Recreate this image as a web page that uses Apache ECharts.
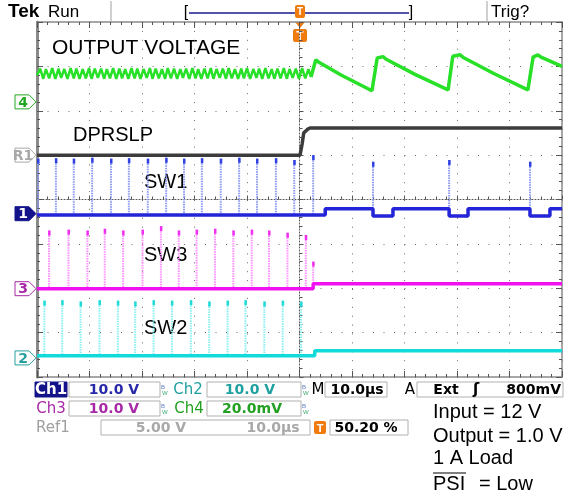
<!DOCTYPE html>
<html>
<head>
<meta charset="utf-8">
<title>DPRSLP transition</title>
<script src="https://cdn.jsdelivr.net/npm/echarts@6/dist/echarts.min.js"></script>
<style>
  body { margin: 0; background: #fff; }
  #main { width: 579px; height: 496px; }
</style>
</head>
<body>
<div id="main"></div>
<script type="text/javascript">
// x: time in µs (10 µs/div, trigger at 0), y: screen divisions (8 div tall)

// Ch4 output voltage ripple before trigger, then the slow sawtooth after
var ch4Ripple = [
  [-50.0,2.80],[-49.4,2.95],[-48.8,2.72],[-48.3,2.94],[-47.7,2.73],[-47.1,2.96],[-46.5,2.72],[-45.9,2.95],
  [-45.4,2.74],[-44.8,2.94],[-44.2,2.72],[-43.6,2.96],[-43.0,2.73],[-42.5,2.95],[-41.9,2.72],[-41.3,2.94],
  [-40.7,2.73],[-40.1,2.96],[-39.6,2.72],[-39.0,2.95],[-38.4,2.74],[-37.8,2.95],[-37.2,2.72],[-36.7,2.94],
  [-36.1,2.73],[-35.5,2.96],[-34.9,2.72],[-34.3,2.95],[-33.8,2.73],[-33.2,2.94],[-32.6,2.72],[-32.0,2.96],
  [-31.4,2.73],[-30.9,2.95],[-30.3,2.72],[-29.7,2.94],[-29.1,2.74],[-28.5,2.96],[-28.0,2.72],[-27.4,2.95],
  [-26.8,2.73],[-26.2,2.94],[-25.6,2.72],[-25.1,2.96],[-24.5,2.73],[-23.9,2.95],[-23.3,2.72],[-22.7,2.94],
  [-22.2,2.74],[-21.6,2.95],[-21.0,2.72],[-20.4,2.96],[-19.8,2.73],[-19.3,2.94],[-18.7,2.72],[-18.1,2.95],
  [-17.5,2.73],[-16.9,2.96],[-16.4,2.72],[-15.8,2.94],[-15.2,2.74],[-14.6,2.95],[-14.0,2.72],[-13.5,2.96],
  [-12.9,2.73],[-12.3,2.94],[-11.7,2.72],[-11.1,2.95],[-10.6,2.73],[-10.0,2.96],[-9.4,2.72],[-8.8,2.94],
  [-8.2,2.74],[-7.7,2.95],[-7.1,2.72],[-6.5,2.96],[-5.9,2.73],[-5.3,2.94],[-4.8,2.72],[-4.2,2.95],
  [-3.6,2.73],[-3.0,2.96],[-2.4,2.72],[-1.9,2.94],[-1.3,2.74],[-0.7,2.95],[-0.1,2.72],[0.5,2.96],
  [1.1,2.73],[1.7,2.94],[2.2,2.76]
];
var ch4After = [
  [2.2,2.76],[3.1,3.15],[3.6,3.10],[8.0,2.80],[13.8,2.45],[14.8,3.19],[15.9,3.22],[16.5,3.16],[22.0,2.82],
  [28.3,2.47],[29.2,3.23],[30.6,3.26],[31.2,3.20],[37.0,2.84],[43.5,2.47],[44.5,3.21],[45.4,3.26],
  [46.0,3.21],[50.0,3.00]
];

// Ref1 DPRSLP
var r1Trace = [[-50,1.00],[0.1,1.00],[0.5,1.25],[0.8,1.50],[1.5,1.58],[2.0,1.61],[50,1.61]];

// switch-node baselines
var ch1Base = [[-50,-0.35],[4.9,-0.35],[4.9,-0.21],[14.0,-0.21],[14.0,-0.37],[17.8,-0.37],[17.8,-0.21],
  [28.5,-0.21],[28.5,-0.37],[32.1,-0.37],[32.1,-0.21],[43.9,-0.21],[43.9,-0.37],[47.7,-0.37],[47.7,-0.21],[50,-0.21]];
var ch3Base = [[-50,-2.01],[2.6,-2.01],[2.6,-1.90],[50,-1.90]];
var ch2Base = [[-50,-3.52],[2.9,-3.52],[2.9,-3.41],[50,-3.41]];

// switching pulses: [time, peak level]
var sw1Pulses = [[-49.8,0.92],[-46.4,0.93],[-43.0,0.92],[-39.5,0.94],[-35.9,0.92],[-32.5,0.93],[-28.9,0.92],
  [-25.4,0.94],[-22.0,0.92],[-18.6,0.93],[-15.0,0.92],[-11.5,0.94],[-8.1,0.92],[-4.5,0.93],[-1.0,0.89],
  [2.6,1.00],[14.0,0.85],[28.5,0.89],[43.9,0.85]];
var sw3Pulses = [[-47.7,-0.70],[-44.0,-0.68],[-40.4,-0.70],[-37.1,-0.66],[-33.6,-0.70],[-29.9,-0.68],
  [-26.4,-0.60],[-23.0,-0.70],[-19.6,-0.68],[-16.1,-0.66],[-12.6,-0.70],[-9.1,-0.68],[-5.8,-0.70],
  [-2.3,-0.75],[1.2,-0.80],[2.6,-1.40]];
var sw2Pulses = [[-48.6,-2.28],[-45.2,-2.27],[-41.7,-2.30],[-38.1,-2.27],[-34.6,-2.28],[-31.3,-2.30],
  [-27.8,-2.27],[-24.3,-2.28],[-20.7,-2.27],[-17.2,-2.30],[-13.7,-2.28],[-10.3,-2.27],[-6.7,-2.30],
  [-3.2,-2.28],[0.3,-2.30]];

// channel ground markers on the left edge
var markerNames = ['4', 'R1', '1', '3', '2'];
var markerLevels = [2.2, 1.0, -0.32, -2.01, -3.57];
var markerColors = ['#22a822', '#a8a8a8', '#14148a', '#a828a8', '#28a0a0'];

var myChart = echarts.init(document.getElementById('main'));

var SANS = '"Liberation Sans", Arial, sans-serif';
var MONO = '"DejaVu Sans", sans-serif';

function pulseSeries(data, base, light, dark) {
  return {
    type: 'custom', xAxisIndex: 0, yAxisIndex: 0, data: data, clip: true, z: 3,
    renderItem: function (params, api) {
      var top = api.coord([api.value(0), api.value(1)]);
      var bot = api.coord([api.value(0), base]);
      return {
        type: 'group', children: [
          { type: 'line', shape: { x1: top[0], y1: top[1], x2: bot[0], y2: bot[1] },
            style: { stroke: light, lineWidth: 2, lineDash: [1.5, 1] } },
          { type: 'rect', shape: { x: top[0] - 1, y: top[1], width: 2.5, height: 5 }, style: { fill: dark } }
        ]
      };
    }
  };
}

function txt(x, y, s, font, color, align) {
  return { type: 'text', x: x, y: y, silent: true,
    style: { text: s, font: font, fill: color, align: align || 'left', verticalAlign: 'middle',
             textAlign: align || 'left', textVerticalAlign: 'middle' } };
}
function box(x, y, w, h, stroke, fill) {
  return { type: 'rect', silent: true, shape: { x: x, y: y, width: w, height: h },
    style: { stroke: stroke, fill: fill || 'none', lineWidth: 1 } };
}
function bw(x, y) {
  return [txt(x, y - 3, 'B', '6px ' + SANS, '#5a7fc8'), txt(x + 1, y + 3, 'W', '6px ' + SANS, '#3aa870')];
}
function tBox(x, y, w, h, fs) {
  return [
    { type: 'rect', silent: true, shape: { x: x, y: y, width: w, height: h, r: 2 }, style: { fill: '#f07c10' } },
    txt(x + w / 2, y + h / 2 + 1, 'T', 'bold ' + fs + 'px ' + SANS, '#fff', 'center')
  ];
}

var graphics = [
  // status bar
  txt(8, 12, 'Tek', 'bold 19px ' + SANS, '#000'),
  txt(48, 12, 'Run', '17px ' + SANS, '#000'),
  { type: 'line', silent: true, shape: { x1: 111, y1: 1, x2: 111, y2: 21 }, style: { stroke: '#a0a0a0', lineWidth: 1 } },
  { type: 'line', silent: true, shape: { x1: 487, y1: 1, x2: 487, y2: 21 }, style: { stroke: '#a0a0a0', lineWidth: 1 } },
  { type: 'line', silent: true, shape: { x1: 189, y1: 13, x2: 409, y2: 13 }, style: { stroke: '#1a1a90', lineWidth: 1.5 } },
  txt(186, 13, '[', '16px ' + SANS, '#000', 'center'),
  txt(411, 13, ']', '16px ' + SANS, '#000', 'center'),
  txt(491, 12, 'Trig?', '17px ' + SANS, '#000'),
  { type: 'polygon', silent: true, shape: { points: [[295, 22], [305, 22], [300, 28]] }, style: { fill: '#f07c10' } },

  // annotations inside the screen
  txt(52, 48, 'OUTPUT VOLTAGE', '21px ' + SANS, '#000'),
  txt(73, 135, 'DPRSLP', '20px ' + SANS, '#000'),
  txt(144, 182, 'SW1', '20px ' + SANS, '#000'),
  txt(144, 255, 'SW3', '20px ' + SANS, '#000'),
  txt(144, 328, 'SW2', '20px ' + SANS, '#000'),

  // readout row 1
  box(35, 382, 32, 15, '#14148a', '#14148a'),
  txt(51, 390, 'Ch1', 'bold 15px ' + MONO, '#fff', 'center'),
  box(69, 382, 91, 15, '#b0b0b0'),
  txt(114, 390, '10.0 V', 'bold 14px ' + MONO, '#2828a8', 'center'),
  txt(188, 390, 'Ch2', '15px ' + MONO, '#20a0a0', 'center'),
  box(207, 382, 94, 15, '#b0b0b0'),
  txt(250, 390, '10.0 V', 'bold 14px ' + MONO, '#20a0a0', 'center'),
  txt(318, 390, 'M', '15px ' + MONO, '#000', 'center'),
  box(325, 382, 62, 15, '#b0b0b0'),
  txt(357, 390, '10.0µs', 'bold 14px ' + MONO, '#000', 'center'),
  txt(410, 390, 'A', '15px ' + MONO, '#000', 'center'),
  box(417, 382, 146, 15, '#b0b0b0'),
  txt(446, 390, 'Ext', 'bold 14px ' + MONO, '#000', 'center'),
  txt(476, 390, 'ʃ', 'bold 15px ' + MONO, '#000', 'center'),
  txt(561, 390, '800mV', 'bold 14px ' + MONO, '#000', 'right'),

  // readout row 2
  txt(51, 409, 'Ch3', '15px ' + MONO, '#a828a8', 'center'),
  box(69, 401, 91, 15, '#b0b0b0'),
  txt(114, 409, '10.0 V', 'bold 14px ' + MONO, '#a828a8', 'center'),
  txt(189, 409, 'Ch4', '15px ' + MONO, '#22a022', 'center'),
  box(207, 401, 94, 15, '#b0b0b0'),
  txt(252, 409, '20.0mV', 'bold 14px ' + MONO, '#22a022', 'center'),

  // readout row 3
  txt(53, 428, 'Ref1', '15px ' + MONO, '#a0a0a0', 'center'),
  box(101, 420, 209, 15, '#b0b0b0'),
  txt(161, 428, '5.00 V', 'bold 14px ' + MONO, '#a8a8a8', 'center'),
  txt(273, 428, '10.0µs', 'bold 14px ' + MONO, '#a8a8a8', 'center'),
  box(330, 420, 78, 15, '#b0b0b0'),
  txt(366, 428, '50.20 %', 'bold 14px ' + MONO, '#000', 'center'),

  // test conditions
  txt(433, 412, 'Input = 12 V', '20px ' + SANS, '#000'),
  txt(433, 436, 'Output = 1.0 V', '20px ' + SANS, '#000'),
  txt(433, 458, '1 A Load', '20px ' + SANS, '#000'),
  txt(433, 484, 'PSI', '20px ' + SANS, '#000'),
  txt(479, 484, '= Low', '20px ' + SANS, '#000'),
  { type: 'line', silent: true, shape: { x1: 433, y1: 473, x2: 466, y2: 473 }, style: { stroke: '#000', lineWidth: 1.2 } }
];
graphics = graphics
  .concat(bw(161, 390), bw(302, 390), bw(161, 409), bw(302, 409))
  .concat(tBox(295, 5, 10, 13, 10), tBox(293, 29, 14, 13, 12), tBox(314, 421, 12, 13, 11));

var frameAxis = function (pos, grid) {
  return {
    gridIndex: grid, type: 'value', position: pos,
    axisLine: { show: true, onZero: false, lineStyle: { color: '#8a8a8a', width: (pos === 'left') ? 3 : 1.5 } },
    axisTick: { show: true, inside: true, length: 6, lineStyle: { color: '#555' } },
    minorTick: { show: true, splitNumber: 5, length: 3, lineStyle: { color: '#555' } },
    axisLabel: { show: false }, splitLine: { show: false }
  };
};

var xFrameTop = frameAxis('top', 1), xFrameBottom = frameAxis('bottom', 1);
[xFrameTop, xFrameBottom].forEach(function (a) { a.min = -50; a.max = 50; a.interval = 10; });
var yFrameLeft = frameAxis('left', 1), yFrameRight = frameAxis('right', 1);
[yFrameLeft, yFrameRight].forEach(function (a) { a.min = -4; a.max = 4; a.interval = 1; });

myChart.setOption({
  animation: false,
  backgroundColor: '#fff',
  grid: [
    { left: 37, top: 22, width: 525, height: 355, show: false },
    { left: 37, top: 22, width: 525, height: 355, show: false }
  ],
  xAxis: [
    { gridIndex: 0, type: 'value', min: -50, max: 50, interval: 10,
      axisLine: { show: true, onZero: true, lineStyle: { color: '#555', type: [1, 2] } },
      axisTick: { show: true, inside: true, length: 4, lineStyle: { color: '#555' } },
      minorTick: { show: true, splitNumber: 5, length: 3, lineStyle: { color: '#555' } },
      axisLabel: { show: false },
      splitLine: { show: true, lineStyle: { color: '#6a6a6a', type: [1, 7.9] } } },
    xFrameTop, xFrameBottom
  ],
  yAxis: [
    { gridIndex: 0, type: 'value', min: -4, max: 4, interval: 1,
      axisLine: { show: true, onZero: true, lineStyle: { color: '#555', type: [1, 2] } },
      axisTick: { show: true, inside: true, length: 4, lineStyle: { color: '#555' } },
      minorTick: { show: true, splitNumber: 5, length: 3, lineStyle: { color: '#555' } },
      axisLabel: { show: false },
      splitLine: { show: true, lineStyle: { color: '#6a6a6a', type: [1, 9.5] } } },
    yFrameLeft, yFrameRight
  ],
  series: [
    { type: 'line', data: r1Trace, showSymbol: false, z: 2, lineStyle: { color: '#3c3c3c', width: 3.5 } },
    pulseSeries(sw1Pulses, -0.35, '#8c9af4', '#3040e0'),
    { type: 'line', data: ch1Base, showSymbol: false, z: 4, lineStyle: { color: '#2424d8', width: 3.5 } },
    pulseSeries(sw3Pulses, -2.01, '#ff90ff', '#f030f0'),
    { type: 'line', data: ch3Base, showSymbol: false, z: 4, lineStyle: { color: '#f010f0', width: 3.5 } },
    pulseSeries(sw2Pulses, -3.52, '#88f0f0', '#20dada'),
    { type: 'line', data: ch2Base, showSymbol: false, z: 4, lineStyle: { color: '#10dada', width: 3.5 } },
    { type: 'line', data: ch4Ripple, showSymbol: false, z: 5, lineStyle: { color: '#28e028', width: 2.5 } },
    { type: 'line', data: ch4After, showSymbol: false, z: 5, lineStyle: { color: '#28e028', width: 3.5 } },
    { type: 'custom', xAxisIndex: 0, yAxisIndex: 0, clip: false, z: 6,
      data: markerLevels.map(function (v) { return [-50, v]; }),
      renderItem: function (params, api) {
        var p = api.coord([api.value(0), api.value(1)]);
        var i = params.dataIndex, c = markerColors[i], filled = markerNames[i] === '1';
        var x = p[0] - 1, y = p[1];
        return {
          type: 'group', children: [
            { type: 'polygon', shape: { points: [[x - 21, y - 7], [x - 7, y - 7], [x, y], [x - 7, y + 7], [x - 21, y + 7]] },
              style: { fill: filled ? c : '#fff', stroke: c, lineWidth: 1 } },
            { type: 'text', style: { text: markerNames[i], x: x - 13, y: y + 1, font: 'bold 14px ' + MONO,
              fill: filled ? '#fff' : c, align: 'center', verticalAlign: 'middle' } }
          ]
        };
      } }
  ],
  graphic: graphics
});
</script>
</body>
</html>
